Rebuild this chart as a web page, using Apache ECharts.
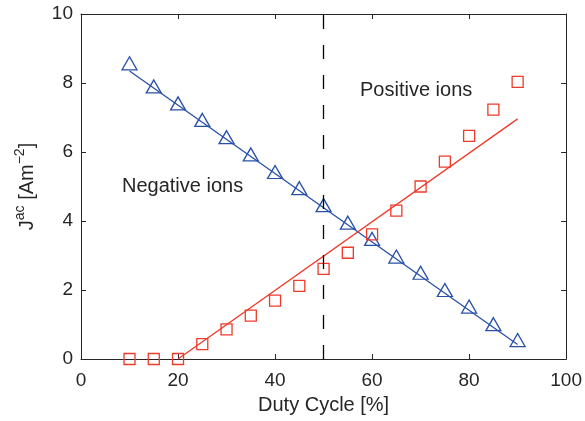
<!DOCTYPE html>
<html>
<head>
<meta charset="utf-8">
<script src="https://cdn.jsdelivr.net/npm/echarts@6/dist/echarts.min.js"></script>
<style>
  html, body { margin: 0; padding: 0; background: #fff; }
  #chart { width: 585px; height: 421px; }
</style>
</head>
<body>
<div id="chart"></div>
<script>
// duty cycle (%) of the measured points
const duty = [10, 15, 20, 25, 30, 35, 40, 45, 50, 55, 60, 65, 70, 75, 80, 85, 90]
// J^ac, negative ions (triangles)
const negIons = [8.57, 7.9, 7.41, 6.93, 6.43, 5.93, 5.42, 4.95, 4.46, 3.95, 3.48, 2.97, 2.5, 2.0, 1.52, 1.01, 0.55]
// J^ac, positive ions (squares)
const posIons = [0, 0, 0, 0.43, 0.86, 1.26, 1.69, 2.12, 2.61, 3.08, 3.61, 4.3, 5.0, 5.72, 6.47, 7.23, 8.03]
// fitted straight lines
const negFitX = [10, 90]
const negFitY = [8.35, 0.42]
const posFitX = [20, 90]
const posFitY = [0, 6.96]
// vertical dashed marker
const dutyMark = 50
// axis ticks
const xTicks = [0, 20, 40, 60, 80, 100]
const yTicks = [0, 2, 4, 6, 8, 10]

const txt = '#262626'
const blue = '#2850a8'
const red = '#ee3a2a'
const font = '"Liberation Sans", Arial, Helvetica, sans-serif'

const pair = (xs, ys) => xs.map((x, i) => [x, ys[i]])

const chart = echarts.init(document.getElementById('chart'), null, { renderer: 'canvas' })

const baseAxis = {
  axisLine: { show: true, onZero: false, lineStyle: { color: txt, width: 1 } },
  axisTick: { show: true, inside: true, length: 5, lineStyle: { color: txt, width: 1 } },
  splitLine: { show: false }
}

chart.setOption({
  animation: false,
  textStyle: { fontFamily: font },
  grid: { left: 81, right: 18, top: 14, bottom: 62, containLabel: false },
  xAxis: [
    {
      ...baseAxis,
      type: 'value',
      min: xTicks[0],
      max: xTicks[xTicks.length - 1],
      interval: xTicks[1] - xTicks[0],
      axisLabel: { color: txt, fontSize: 19, margin: 12, fontFamily: font },
      name: 'Duty Cycle [%]',
      nameLocation: 'middle',
      nameGap: 36,
      nameTextStyle: { color: txt, fontSize: 20, fontFamily: font }
    },
    {
      ...baseAxis,
      type: 'value',
      position: 'top',
      min: xTicks[0],
      max: xTicks[xTicks.length - 1],
      interval: xTicks[1] - xTicks[0],
      axisLabel: { show: false }
    }
  ],
  yAxis: [
    {
      ...baseAxis,
      type: 'value',
      min: yTicks[0],
      max: yTicks[yTicks.length - 1],
      interval: yTicks[1] - yTicks[0],
      axisLabel: { color: txt, fontSize: 19, margin: 8, fontFamily: font },
      name: '{n|J}{s|ac}{n| [Am}{s|−2}{n|]}',
      nameLocation: 'middle',
      nameRotate: 90,
      nameGap: 44,
      nameTextStyle: {
        color: txt,
        rich: {
          n: { fontSize: 20, lineHeight: 24, verticalAlign: 'bottom', color: txt, fontFamily: font },
          s: { fontSize: 14, lineHeight: 14, verticalAlign: 'top', color: txt, fontFamily: font }
        }
      }
    },
    {
      ...baseAxis,
      type: 'value',
      position: 'right',
      min: yTicks[0],
      max: yTicks[yTicks.length - 1],
      interval: yTicks[1] - yTicks[0],
      axisLabel: { show: false }
    }
  ],
  graphic: [
    {
      type: 'text', left: 122, top: 176, z: 10,
      style: { text: 'Negative ions', fill: txt, font: '20px ' + font }
    },
    {
      type: 'text', left: 360, top: 80, z: 10,
      style: { text: 'Positive ions', fill: txt, font: '20px ' + font }
    }
  ],
  series: [
    {
      name: 'dash',
      type: 'line',
      data: [],
      markLine: {
        silent: true,
        symbol: 'none',
        label: { show: false },
        lineStyle: { color: '#000', width: 1.3, type: [14, 16] },
        data: [{ xAxis: dutyMark }]
      }
    },
    {
      name: 'negFit',
      type: 'line',
      showSymbol: false,
      data: pair(negFitX, negFitY),
      lineStyle: { color: blue, width: 1.3 },
      z: 3
    },
    {
      name: 'posFit',
      type: 'line',
      showSymbol: false,
      data: pair(posFitX, posFitY),
      lineStyle: { color: red, width: 1.3 },
      z: 3
    },
    {
      name: 'Negative ions',
      type: 'scatter',
      symbol: 'triangle',
      symbolSize: [15, 13],
      data: pair(duty, negIons),
      itemStyle: { color: 'rgba(0,0,0,0)', borderColor: blue, borderWidth: 1.3, opacity: 1 },
      z: 4
    },
    {
      name: 'Positive ions',
      type: 'scatter',
      symbol: 'rect',
      symbolSize: 11,
      data: pair(duty, posIons),
      itemStyle: { color: 'rgba(0,0,0,0)', borderColor: red, borderWidth: 1.3, opacity: 1 },
      z: 4
    }
  ]
})
</script>
</body>
</html>
